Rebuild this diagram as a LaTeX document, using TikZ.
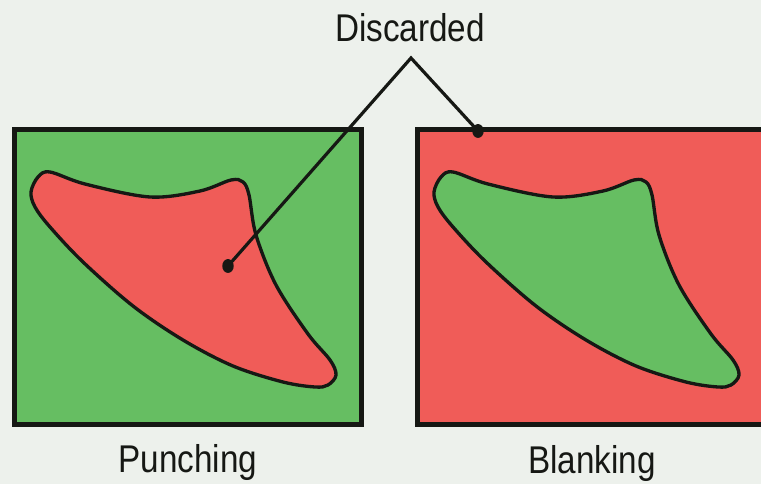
\documentclass[tikz,border=0pt]{standalone}
\usepackage{fontspec}
\setmainfont{Liberation Sans}[FakeStretch=0.86]
\definecolor{bgc}{RGB}{237,241,236}
\definecolor{gfill}{RGB}{102,190,98}
\definecolor{rfill}{RGB}{240,92,88}
\definecolor{inkc}{RGB}{22,24,20}
\tikzset{
  panel/.style={draw=inkc,line width=4pt},
  part/.style={draw=inkc,line width=2.5pt},
  lead/.style={draw=inkc,line width=2.4pt,line join=miter},
  lbl/.style={anchor=base,inner sep=0pt,font=\fontsize{29}{31}\selectfont,text=inkc},
  dotc/.style={fill=inkc}
}
\newcommand{\finshape}{plot[smooth cycle,tension=0.55] coordinates {
 (31,192) (38,177) (50,172) (85,184) (150,197) (200,191) (231,180) (243,182)
 (249,195) (256,235) (276,285) (308,334) (330,360) (336,375) (328,385)
 (315,387) (283,382) (233,366) (183,340) (133,306) (83,262) (50,227) (35,207)}}
\begin{document}
\begin{tikzpicture}[x=0.75pt,y=-0.75pt]
\clip (0,0) rectangle (761,484);
\fill[bgc] (0,0) rectangle (761,484);
% left panel: punching
\draw[panel,fill=gfill] (14.5,129.5) rectangle (361.5,424.5);
\draw[part,fill=rfill] \finshape;
% right panel: blanking
\draw[panel,fill=rfill] (417.5,129.5) rectangle (775,424.5);
\begin{scope}[xshift=302.25pt]
\draw[part,fill=gfill] \finshape;
\end{scope}
% labels
\node[lbl] (disc) at (410,42) {Discarded};
\node[lbl] (punch) at (188,473) {Punching};
\node[lbl] (blank) at (592,474) {Blanking};
% leader lines
\coordinate (apex) at (411,58);
\coordinate (d1) at (228,266);
\coordinate (d2) at (478,131);
\draw[lead] (d1) -- (apex) -- (d2);
\fill[dotc] (d1) ellipse (4.3pt and 5.2pt);
\fill[dotc] (d2) ellipse (4.3pt and 5.2pt);
\end{tikzpicture}
\end{document}
